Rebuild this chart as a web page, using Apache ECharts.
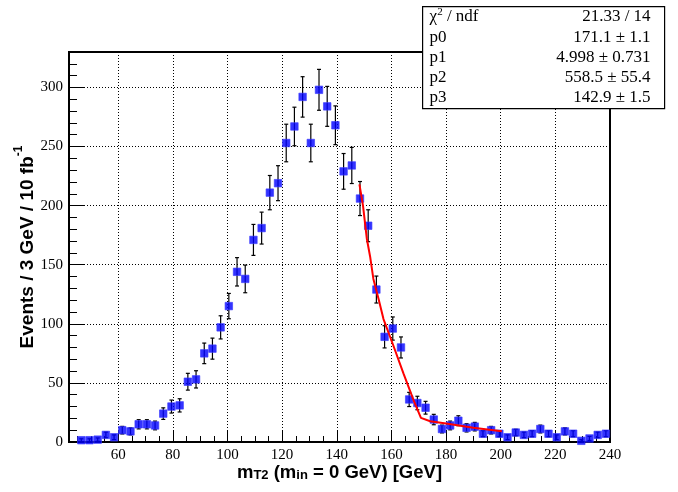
<!DOCTYPE html>
<html>
<head>
<meta charset="utf-8">
<script src="https://cdn.jsdelivr.net/npm/echarts@6/dist/echarts.min.js"></script>
<style>
  html, body { margin: 0; padding: 0; background: #fff; }
  #chart { width: 678px; height: 492px; }
</style>
</head>
<body>
<div id="chart"></div>
<script>
// bin centres (3 GeV bins)
const binCenters = [
  46.5, 49.5, 52.5, 55.5, 58.5, 61.5, 64.5, 67.5, 70.5, 73.5,
  76.5, 79.5, 82.5, 85.5, 88.5, 91.5, 94.5, 97.5, 100.5, 103.5,
  106.5, 109.5, 112.5, 115.5, 118.5, 121.5, 124.5, 127.5, 130.5, 133.5,
  136.5, 139.5, 142.5, 145.5, 148.5, 151.5, 154.5, 157.5, 160.5, 163.5,
  166.5, 169.5, 172.5, 175.5, 178.5, 181.5, 184.5, 187.5, 190.5, 193.5,
  196.5, 199.5, 202.5, 205.5, 208.5, 211.5, 214.5, 217.5, 220.5, 223.5,
  226.5, 229.5, 232.5, 235.5, 238.5
]
const counts = [
  1.5, 1.5, 2, 6, 4, 10, 9, 15, 15, 14,
  24, 30, 31, 51, 53, 75, 79, 97, 115, 144,
  138, 171, 181, 211, 219, 253, 267, 292, 253, 298,
  284, 268, 229, 234, 206, 183, 129, 89, 96, 80,
  36, 33, 29, 19, 11, 14, 18, 12, 13, 7,
  10, 7, 4, 8, 6, 7, 11, 7, 4, 9,
  7, 1, 3, 6, 7
]
const errors = [
  1.2, 1.2, 1.4, 2.4, 2, 3.2, 3, 3.9, 3.9, 3.7,
  4.9, 5.5, 5.6, 7.1, 7.3, 8.7, 8.9, 9.8, 10.7, 12,
  11.7, 13.1, 13.5, 14.5, 14.8, 15.9, 16.3, 17.1, 15.9, 17.3,
  16.9, 16.4, 15.1, 15.3, 14.4, 13.5, 11.4, 9.4, 9.8, 8.9,
  6, 5.7, 5.4, 4.4, 3.3, 3.7, 4.2, 3.5, 3.6, 2.6,
  3.2, 2.6, 2, 2.8, 2.4, 2.6, 3.3, 2.6, 2, 3,
  2.6, 1, 1.7, 2.4, 2.6
]
// fit curve
const fitX = [148.3, 149.6, 151.0, 152.2, 153.4, 155.3, 157.1, 160.8, 164.4, 168.1, 170.8, 174.2, 180, 190, 200.4]
const fitY = [218, 200, 172, 157, 138, 121, 104, 81, 58, 35.5, 20.4, 17.6, 15.6, 12, 9]

const statLabels = ['{a|χ}{sup|2}{a| / ndf}', 'p0', 'p1', 'p2', 'p3']
const statValues = ['21.33 / 14', '171.1 ± 1.1', '4.998 ± 0.731', '558.5 ± 55.4', '142.9 ± 1.5']

const serif = 'Liberation Serif, Times New Roman, serif'
const sans = 'Liberation Sans, Arial, sans-serif'

const chart = echarts.init(document.getElementById('chart'))

const points = binCenters.map((x, i) => [x, counts[i], errors[i]])
const fitData = fitX.map((x, i) => [x, fitY[i]])

// stats box, drawn over the frame like ROOT's TPaveStats
const statChildren = [
  { type: 'rect', z: 100, shape: { x: 0, y: 0, width: 242, height: 102 }, style: { fill: '#fff', stroke: '#000', lineWidth: 1.2 } }
]
const rowY = [10, 31, 51, 71, 91]
statLabels.forEach((t, i) => {
  statChildren.push({
    type: 'text', z: 101, x: 7, y: rowY[i],
    style: {
      text: t, textAlign: 'left', textVerticalAlign: 'middle',
      font: '17px ' + serif, fill: '#000',
      rich: {
        a: { fontFamily: serif, fontSize: 17, color: '#000' },
        sup: { fontFamily: serif, fontSize: 11, color: '#000', padding: [0, 0, 8, 0] }
      }
    }
  })
  statChildren.push({
    type: 'text', z: 101, x: 228, y: rowY[i],
    style: { text: statValues[i], textAlign: 'right', textVerticalAlign: 'middle', font: '17px ' + serif, fill: '#000' }
  })
})

const option = {
  animation: false,
  backgroundColor: '#fff',
  grid: {
    left: 69, right: 68, top: 52, bottom: 50,
    outerBoundsMode: 'none',
    show: true, borderColor: '#000', borderWidth: 2, backgroundColor: 'transparent'
  },
  xAxis: [
    {
      type: 'value', min: 42, max: 240, splitNumber: 10, position: 'bottom', z: 1,
      axisLine: { show: true, onZero: false, lineStyle: { color: '#000', width: 2 } },
      axisTick: { show: true, inside: true, length: 12, lineStyle: { color: '#000', width: 1 } },
      axisLabel: { showMinLabel: false, color: '#000', fontFamily: serif, fontSize: 15, margin: 6 },
      splitLine: { show: true, lineStyle: { color: '#000', width: 1, type: [1, 2] } },
      name: '{b|m}{s|T2}{b| (m}{t|in}{b| = 0 GeV) [GeV]}',
      nameLocation: 'middle', nameGap: 18, nameMoveOverlap: false,
      nameTextStyle: {
        rich: {
          b: { fontFamily: sans, fontWeight: 'bold', fontSize: 18.5, color: '#000', lineHeight: 22, verticalAlign: 'bottom' },
          s: { fontFamily: sans, fontWeight: 'bold', fontSize: 13, color: '#000', lineHeight: 13, padding: [15, 0, 0, 0], verticalAlign: 'bottom' },
          t: { fontFamily: sans, fontWeight: 'bold', fontSize: 13, color: '#000', lineHeight: 13, padding: [20, 0, 0, 0], verticalAlign: 'bottom' }
        }
      }
    },
    {
      // minor ticks every 5
      type: 'value', min: 42, max: 240, splitNumber: 40, position: 'bottom', z: 1,
      axisLine: { show: false },
      axisTick: { show: true, inside: true, length: 6, lineStyle: { color: '#000', width: 1 } },
      axisLabel: { show: false },
      splitLine: { show: false }
    }
  ],
  yAxis: [
    {
      type: 'value', min: 0, max: 330, interval: 50, position: 'left', z: 1,
      axisLine: { show: true, onZero: false, lineStyle: { color: '#000', width: 2 } },
      axisTick: { show: true, inside: true, length: 16, lineStyle: { color: '#000', width: 1 } },
      axisLabel: { showMaxLabel: false, color: '#000', fontFamily: serif, fontSize: 15, margin: 6 },
      splitLine: { show: true, lineStyle: { color: '#000', width: 1, type: [1, 2] } },
      name: '{b|Events / 3 GeV / 10 fb}{s|-1}',
      nameLocation: 'middle', nameGap: 32, nameRotate: 90, nameMoveOverlap: false,
      nameTextStyle: {
        rich: {
          b: { fontFamily: sans, fontWeight: 'bold', fontSize: 19, color: '#000', lineHeight: 20, verticalAlign: 'bottom' },
          s: { fontFamily: sans, fontWeight: 'bold', fontSize: 12, color: '#000', lineHeight: 12, padding: [0, 0, 12, 0], verticalAlign: 'bottom' }
        }
      }
    },
    {
      // minor ticks every 10
      type: 'value', min: 0, max: 330, interval: 10, position: 'left', z: 1,
      axisLine: { show: false },
      axisTick: { show: true, inside: true, length: 8, lineStyle: { color: '#000', width: 1 } },
      axisLabel: { show: false },
      splitLine: { show: false }
    }
  ],
  series: [
    {
      type: 'custom',
      xAxisIndex: 0, yAxisIndex: 0,
      data: points,
      z: 2,
      renderItem: (params, api) => {
        const x = api.value(0)
        const y = api.value(1)
        const e = api.value(2)
        const top = api.coord([x, y + e])
        const bot = api.coord([x, Math.max(0, y - e)])
        const cap = 2
        const st = { stroke: '#000', lineWidth: 1.2 }
        return {
          type: 'group',
          children: [
            { type: 'line', shape: { x1: top[0], y1: top[1], x2: bot[0], y2: bot[1] }, style: st },
            { type: 'line', shape: { x1: top[0] - cap, y1: top[1], x2: top[0] + cap, y2: top[1] }, style: st },
            { type: 'line', shape: { x1: bot[0] - cap, y1: bot[1], x2: bot[0] + cap, y2: bot[1] }, style: st }
          ]
        }
      }
    },
    {
      type: 'scatter',
      xAxisIndex: 0, yAxisIndex: 0,
      data: points,
      symbol: 'rect', symbolSize: 7.5,
      itemStyle: { color: '#0000ff', borderColor: '#3a3aff', borderWidth: 0.8 },
      z: 3
    },
    {
      type: 'line',
      xAxisIndex: 0, yAxisIndex: 0,
      data: fitData,
      showSymbol: false, symbol: 'none',
      lineStyle: { color: '#ff0000', width: 2 },
      z: 4
    }
  ],
  graphic: [
    { type: 'group', left: 422, top: 6, z: 100, children: statChildren }
  ]
}

chart.setOption(option)
</script>
</body>
</html>
